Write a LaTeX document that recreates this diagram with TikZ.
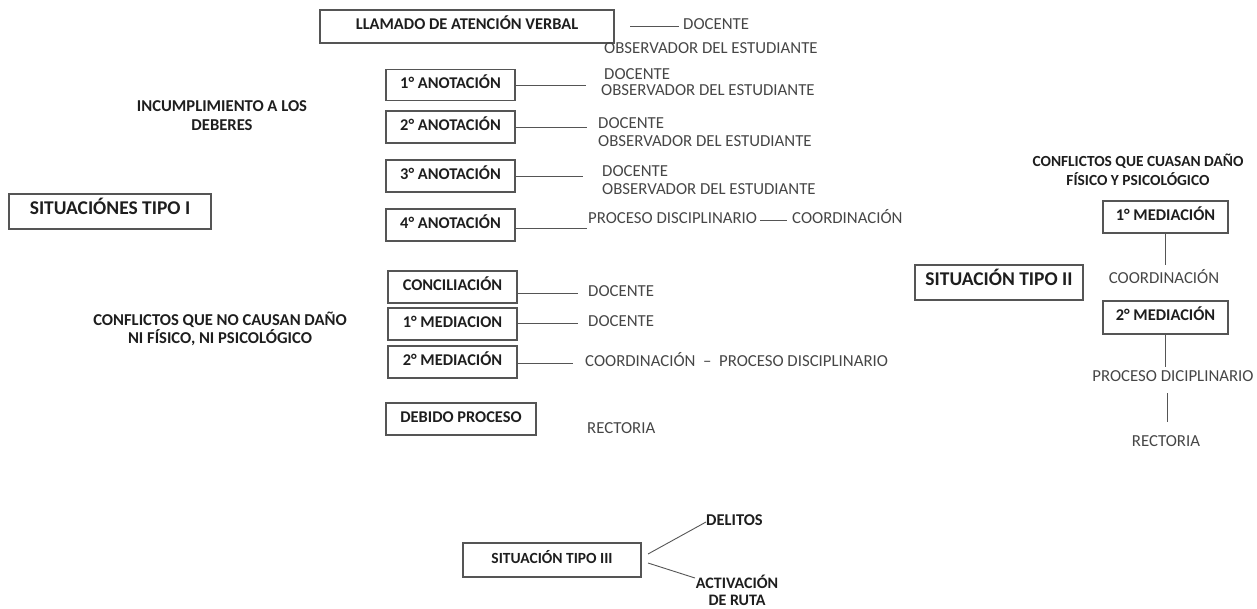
\documentclass[tikz,border=0pt]{standalone}
\usepackage{fontspec}
\setmainfont{Carlito}
\definecolor{ink}{HTML}{1E1E1E}
\definecolor{soft}{HTML}{464646}
\definecolor{edge}{HTML}{555555}
\begin{document}
\begin{tikzpicture}[x=1pt,y=-1pt,
  lab/.style={inner sep=0pt, text height=0.64em, text depth=0pt, text=soft, font=\fontsize{16.8}{18}\selectfont},
  blab/.style={inner sep=0pt, text height=0.64em, text depth=0pt, text=ink, font=\bfseries\fontsize{16.4}{18}\selectfont},
  head/.style={inner sep=0pt, align=center, text=ink, font=\bfseries\fontsize{16.6}{19}\selectfont},
  conn/.style={draw=edge, line width=0.9pt},
  boxframe/.style={draw=edge, line width=1.1pt, inner sep=0pt}]
\useasboundingbox (0,0) rectangle (1257,608);
% ---- boxes
\node[boxframe, minimum width=294pt, minimum height=33pt] (llam) at (467,26.5) {};
\node[blab] (llamT) at (llam) {LLAMADO DE ATENCIÓN VERBAL};
\node[boxframe, minimum width=129pt, minimum height=31pt] (an1) at (450.5,85) {};
\node[blab] at (an1) {1° ANOTACIÓN};
\node[boxframe, minimum width=129pt, minimum height=32pt] (an2) at (450.5,127) {};
\node[blab] at (an2) {2° ANOTACIÓN};
\node[boxframe, minimum width=129pt, minimum height=32pt] (an3) at (450.5,176) {};
\node[blab] at (an3) {3° ANOTACIÓN};
\node[boxframe, minimum width=129pt, minimum height=32pt] (an4) at (450.5,225) {};
\node[blab] at (an4) {4° ANOTACIÓN};
\node[boxframe, minimum width=202pt, minimum height=35pt] (tipoI) at (110,211.5) {};
\node[blab, font=\bfseries\fontsize{19.5}{21}\selectfont] at (tipoI) {SITUACIÓNES TIPO I};
\node[boxframe, minimum width=129pt, minimum height=32pt] (conc) at (452.5,287) {};
\node[blab] at (conc) {CONCILIACIÓN};
\node[boxframe, minimum width=129pt, minimum height=32pt] (med1) at (452.5,324) {};
\node[blab] at (med1) {1° MEDIACION};
\node[boxframe, minimum width=129pt, minimum height=32pt] (med2) at (452.5,362) {};
\node[blab] at (med2) {2° MEDIACIÓN};
\node[boxframe, minimum width=150pt, minimum height=32pt] (debido) at (461,419) {};
\node[blab] at (debido) {DEBIDO PROCESO};
\node[boxframe, minimum width=168pt, minimum height=35pt] (tipoII) at (999,282.5) {};
\node[blab, font=\bfseries\fontsize{19.5}{21}\selectfont] at (tipoII) {SITUACIÓN TIPO II};
\node[boxframe, minimum width=125pt, minimum height=32pt] (r1) at (1165.5,217) {};
\node[blab] at (r1) {1° MEDIACIÓN};
\node[boxframe, minimum width=125pt, minimum height=33pt] (r2) at (1165.5,317.5) {};
\node[blab] at (r2) {2° MEDIACIÓN};
\node[boxframe, minimum width=178pt, minimum height=34pt] (tipoIII) at (552,560) {};
\node[blab, font=\bfseries\fontsize{15.5}{17}\selectfont] at (tipoIII) {SITUACIÓN TIPO III};
% ---- headings
\node[head] (incump) at (222,116) {INCUMPLIMIENTO A LOS\\DEBERES};
\node[head, font=\bfseries\fontsize{16.6}{18}\selectfont] (confno) at (220,329) {CONFLICTOS QUE NO CAUSAN DAÑO\\NI FÍSICO, NI PSICOLÓGICO};
\node[head, font=\bfseries\fontsize{15.4}{19}\selectfont] (confsi) at (1138,169.5) {CONFLICTOS QUE CUASAN DAÑO\\FÍSICO Y PSICOLÓGICO};
% ---- llamado
\coordinate (lA) at (630,26);
\coordinate (lB) at (679,26);
\node[lab, anchor=west] (lDoc) at (683,26) {DOCENTE};
\draw[conn] (lA) -- (lB);
\node[lab, anchor=west] (lObs) at (604,50) {OBSERVADOR DEL ESTUDIANTE};
% ---- anotaciones
\coordinate (e1) at (586,85);
\draw[conn] (an1.east) -- (e1);
\node[lab, anchor=west] at (604,76) {DOCENTE};
\node[lab, anchor=west] at (601,92) {OBSERVADOR DEL ESTUDIANTE};
\coordinate (e2) at (587,127);
\draw[conn] (an2.east) -- (e2);
\node[lab, anchor=west] at (598,125) {DOCENTE};
\node[lab, anchor=west] at (598,143) {OBSERVADOR DEL ESTUDIANTE};
\coordinate (e3) at (583,176);
\draw[conn] (an3.east) -- (e3);
\node[lab, anchor=west] at (602,173) {DOCENTE};
\node[lab, anchor=west] at (602,191) {OBSERVADOR DEL ESTUDIANTE};
\node[lab, anchor=west] (pd4) at (588,220) {PROCESO DISCIPLINARIO};
\node[lab, anchor=west] (co4) at (792,220) {COORDINACIÓN};
\coordinate (e4) at (587,228);
\draw[conn] (an4.east |- e4) -- (e4);
\coordinate (c4a) at (760,220);
\coordinate (c4b) at (787,220);
\draw[conn] (c4a) -- (c4b);
% ---- tipo I conflictos
\coordinate (e5) at (578,293);
\draw[conn] (conc.east |- e5) -- (e5);
\node[lab, anchor=west] at (588,293) {DOCENTE};
\coordinate (e6) at (578,323);
\draw[conn] (med1.east |- e6) -- (e6);
\node[lab, anchor=west] at (588,323) {DOCENTE};
\coordinate (e7) at (573,363);
\draw[conn] (med2.east |- e7) -- (e7);
\node[lab, anchor=west] at (585,363) {COORDINACIÓN \ – \ PROCESO DISCIPLINARIO};
\node[lab, anchor=west] at (587,430) {RECTORIA};
% ---- tipo II
\node[lab] (coR) at (1164,280) {COORDINACIÓN};
\coordinate (v1) at (1165.5,265);
\draw[conn] (r1.south) -- (v1);
\node[lab] (pdR) at (1173,378) {PROCESO DICIPLINARIO};
\coordinate (v2) at (1165.5,367);
\draw[conn] (r2.south) -- (v2);
\node[lab] (reR) at (1166,443) {RECTORIA};
\coordinate (v3a) at (1167,393);
\coordinate (v3b) at (1167,422);
\draw[conn] (v3a) -- (v3b);
% ---- tipo III
\node[blab, anchor=west, font=\bfseries\fontsize{16.5}{18}\selectfont] (del) at (706,522) {DELITOS};
\node[head, font=\bfseries\fontsize{16}{17}\selectfont] (act) at (737,590.5) {ACTIVACIÓN\\DE RUTA};
\coordinate (t3a) at (648,554);
\coordinate (t3b) at (648,563);
\coordinate (t3c) at (695,578);
\draw[conn] (t3a) -- (del.west);
\draw[conn] (t3b) -- (t3c);
\end{tikzpicture}
\end{document}
